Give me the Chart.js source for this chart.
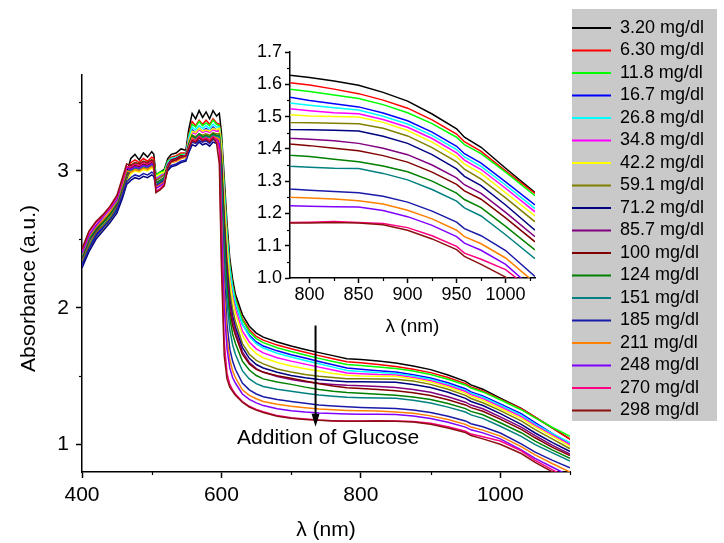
<!DOCTYPE html>
<html><head><meta charset="utf-8">
<script src="https://cdn.jsdelivr.net/npm/chart.js@4.4.1/dist/chart.umd.min.js"></script>
<style>
html,body{margin:0;padding:0;background:#fff;}
#wrap{position:relative;width:724px;height:543px;overflow:hidden;}
canvas{position:absolute;left:0;top:0;}
#inset{pointer-events:none;}
</style></head>
<body><div id="wrap"><canvas id="main" width="724" height="543"></canvas><canvas id="inset" width="724" height="543"></canvas></div>
<script>
// ---------------- DATA ----------------
const WAVELENGTH = [400,410,420,430,440,450,458,464, 470,476,482,488,494,500, 503,506,512,518,523,528,535,542,549, 553,558,563,568,573,578,583,588,593,597, 600,604,608,612,616,620, 630,640,650,660,680,700,720,740,760, 780,800,825,850,875,900,925,950,958,975,1000,1030, 1050,1075,1100];

const CONCENTRATIONS = ['3.20 mg/dl','6.30 mg/dl','11.8 mg/dl','16.7 mg/dl','26.8 mg/dl','34.8 mg/dl','42.2 mg/dl','59.1 mg/dl','71.2 mg/dl','85.7 mg/dl','100 mg/dl','124 mg/dl','151 mg/dl','185 mg/dl','211 mg/dl','248 mg/dl','270 mg/dl','298 mg/dl'];

const COLORS = ['#000000','#ff0000','#00ff00','#0000ff','#00ffff','#ff00ff','#ffff00','#808000','#000080','#800080','#800000','#008000','#008080','#1a1aa8','#ff8000','#8000ff','#ff0080','#8b1010'];

const ABS_3_20 = [2.33,2.45,2.54,2.60,2.65,2.73,2.85,2.98, 3.09,3.12,3.08,3.13,3.10,3.14, 3.12,2.97,2.99,3.01,3.09,3.12,3.13,3.16,3.15, 3.30,3.42,3.38,3.44,3.39,3.43,3.38,3.44,3.40,3.42, 3.28,2.95,2.62,2.36,2.21,2.10, 1.95,1.865,1.815,1.785,1.75,1.72,1.695,1.672,1.65, 1.628,1.621,1.610,1.597,1.575,1.548,1.508,1.462,1.436,1.405,1.340,1.265, 1.20,1.12,1.04];
const ABS_6_30 = [2.35,2.47,2.55,2.61,2.67,2.74,2.86,2.96, 3.06,3.08,3.06,3.09,3.07,3.10, 3.09,2.95,2.97,2.99,3.07,3.10,3.11,3.13,3.13, 3.26,3.36,3.33,3.37,3.34,3.37,3.34,3.38,3.35,3.34, 3.22,2.88,2.56,2.31,2.17,2.07, 1.92,1.84,1.79,1.763,1.727,1.70,1.675,1.65,1.627, 1.605,1.598,1.585,1.571,1.551,1.526,1.490,1.446,1.422,1.392,1.332,1.262, 1.20,1.12,1.04];
const ABS_11_8 = [2.32,2.44,2.53,2.58,2.64,2.72,2.83,2.93, 3.04,3.06,3.05,3.07,3.06,3.08, 3.07,2.97,2.99,3.00,3.07,3.09,3.10,3.12,3.12, 3.25,3.34,3.32,3.36,3.33,3.35,3.33,3.37,3.34,3.33, 3.22,2.88,2.55,2.30,2.16,2.06, 1.91,1.825,1.775,1.745,1.708,1.68,1.655,1.63,1.607, 1.585,1.578,1.567,1.556,1.537,1.512,1.478,1.436,1.413,1.385,1.328,1.255, 1.195,1.125,1.06];
const ABS_16_7 = [2.33,2.46,2.53,2.59,2.66,2.73,2.84,2.94, 3.01,3.03,3.02,3.04,3.03,3.05, 3.04,2.93,2.95,2.97,3.05,3.08,3.09,3.11,3.11, 3.22,3.30,3.28,3.31,3.29,3.31,3.29,3.32,3.30,3.30, 3.18,2.82,2.48,2.25,2.12,2.03, 1.88,1.80,1.75,1.72,1.685,1.657,1.632,1.607,1.583, 1.560,1.550,1.540,1.530,1.511,1.487,1.452,1.408,1.385,1.356,1.298,1.226, 1.16,1.08,1.00];
const ABS_26_8 = [2.35,2.48,2.56,2.61,2.67,2.75,2.87,2.97, 3.02,3.04,3.03,3.05,3.04,3.06, 3.05,2.95,2.97,2.99,3.06,3.09,3.10,3.11,3.12, 3.24,3.32,3.30,3.33,3.31,3.33,3.31,3.34,3.32,3.32, 3.20,2.85,2.52,2.28,2.14,2.04, 1.88,1.79,1.738,1.706,1.668,1.64,1.615,1.59,1.566, 1.542,1.535,1.527,1.520,1.501,1.477,1.442,1.398,1.375,1.346,1.288,1.215, 1.15,1.08,1.015];
const ABS_34_8 = [2.37,2.49,2.57,2.63,2.69,2.76,2.88,2.98, 3.01,3.03,3.02,3.04,3.03,3.05, 3.04,2.94,2.96,2.98,3.05,3.08,3.09,3.11,3.11, 3.22,3.28,3.27,3.30,3.28,3.29,3.28,3.30,3.29,3.29, 3.16,2.78,2.44,2.21,2.08,1.99, 1.83,1.75,1.70,1.67,1.635,1.61,1.588,1.566,1.545, 1.524,1.518,1.512,1.509,1.491,1.467,1.432,1.388,1.365,1.336,1.278,1.205, 1.14,1.07,1.00];
const ABS_42_2 = [2.30,2.42,2.51,2.57,2.63,2.70,2.81,2.91, 2.98,3.00,2.99,3.01,3.00,3.02, 3.01,2.96,2.98,2.99,3.04,3.06,3.07,3.09,3.10, 3.21,3.29,3.28,3.31,3.29,3.30,3.29,3.31,3.30,3.31, 3.18,2.80,2.45,2.20,2.06,1.96, 1.80,1.715,1.665,1.635,1.60,1.575,1.555,1.537,1.52, 1.506,1.502,1.500,1.499,1.482,1.457,1.421,1.376,1.353,1.324,1.264,1.192, 1.13,1.06,0.99];
const ABS_59_1 = [2.34,2.46,2.55,2.60,2.66,2.74,2.85,2.95, 3.00,3.02,3.01,3.03,3.02,3.04, 3.03,2.93,2.95,2.97,3.04,3.07,3.08,3.10,3.10, 3.20,3.26,3.25,3.27,3.26,3.27,3.26,3.28,3.27,3.27, 3.12,2.70,2.35,2.12,1.99,1.90, 1.74,1.66,1.615,1.59,1.553,1.53,1.513,1.50,1.49, 1.482,1.481,1.479,1.478,1.464,1.440,1.404,1.360,1.337,1.306,1.248,1.174, 1.11,1.04,0.97];
const ABS_71_2 = [2.29,2.41,2.50,2.56,2.62,2.69,2.80,2.90, 2.93,2.95,2.94,2.96,2.95,2.97, 2.96,2.88,2.90,2.92,3.00,3.03,3.04,3.06,3.07, 3.13,3.19,3.18,3.21,3.19,3.20,3.18,3.21,3.20,3.21, 3.05,2.62,2.28,2.06,1.94,1.86, 1.71,1.63,1.585,1.56,1.528,1.505,1.488,1.475,1.466, 1.460,1.459,1.458,1.455,1.439,1.417,1.382,1.338,1.315,1.286,1.226,1.148, 1.085,1.015,0.95];
const ABS_85_7 = [2.36,2.49,2.56,2.62,2.68,2.75,2.87,2.97, 3.00,3.02,3.01,3.03,3.02,3.04, 3.03,2.91,2.93,2.95,3.04,3.07,3.08,3.10,3.10, 3.18,3.25,3.23,3.26,3.24,3.25,3.24,3.27,3.25,3.25, 3.05,2.60,2.25,2.03,1.91,1.83, 1.68,1.60,1.555,1.53,1.498,1.475,1.46,1.448,1.44, 1.433,1.430,1.425,1.417,1.402,1.382,1.350,1.310,1.289,1.262,1.203,1.128, 1.065,0.995,0.93];
const ABS_100 = [2.37,2.50,2.58,2.63,2.69,2.77,2.89,2.99, 3.02,3.04,3.03,3.05,3.04,3.06, 3.05,2.89,2.91,2.93,3.04,3.08,3.09,3.11,3.11, 3.17,3.23,3.21,3.24,3.22,3.23,3.22,3.25,3.23,3.22, 3.00,2.52,2.18,1.98,1.87,1.80, 1.66,1.59,1.55,1.528,1.503,1.485,1.465,1.445,1.428, 1.415,1.410,1.402,1.394,1.379,1.359,1.328,1.290,1.270,1.244,1.186,1.112, 1.05,0.98,0.92];
const ABS_124 = [2.37,2.50,2.57,2.62,2.68,2.76,2.88,2.98, 3.01,3.03,3.02,3.04,3.03,3.05, 3.04,2.91,2.93,2.95,3.04,3.07,3.08,3.10,3.11, 3.19,3.26,3.24,3.27,3.25,3.26,3.25,3.27,3.26,3.26, 2.98,2.50,2.14,1.93,1.81,1.74, 1.61,1.545,1.505,1.48,1.458,1.44,1.42,1.403,1.39, 1.380,1.376,1.368,1.360,1.347,1.329,1.300,1.263,1.243,1.218,1.160,1.087, 1.025,0.96,0.90];
const ABS_151 = [2.38,2.51,2.59,2.64,2.70,2.77,2.90,3.00, 3.00,3.02,3.01,3.03,3.02,3.04, 3.03,2.90,2.92,2.94,3.03,3.07,3.08,3.10,3.10, 3.18,3.24,3.23,3.26,3.24,3.25,3.24,3.26,3.25,3.25, 2.92,2.42,2.05,1.84,1.73,1.66, 1.54,1.48,1.445,1.425,1.405,1.39,1.375,1.362,1.353, 1.346,1.343,1.340,1.339,1.324,1.304,1.274,1.238,1.217,1.192,1.134,1.060, 1.00,0.94,0.88];
const ABS_185 = [2.31,2.43,2.52,2.58,2.64,2.71,2.82,2.92, 2.95,2.97,2.96,2.98,2.97,2.99, 2.98,2.89,2.91,2.93,3.01,3.04,3.05,3.07,3.08, 3.15,3.21,3.20,3.22,3.21,3.22,3.20,3.23,3.22,3.22, 2.80,2.25,1.88,1.70,1.61,1.55, 1.45,1.40,1.37,1.35,1.33,1.315,1.302,1.29,1.282, 1.276,1.272,1.268,1.264,1.253,1.235,1.207,1.173,1.153,1.131,1.085,1.005, 0.945,0.885,0.83];
const ABS_211 = [2.39,2.52,2.59,2.64,2.70,2.78,2.90,3.00, 2.99,3.01,3.00,3.02,3.01,3.03, 3.02,2.88,2.90,2.92,3.03,3.06,3.07,3.09,3.10, 3.17,3.24,3.22,3.25,3.23,3.24,3.23,3.25,3.24,3.23, 2.70,2.12,1.78,1.62,1.54,1.49, 1.40,1.36,1.335,1.315,1.295,1.28,1.27,1.26,1.254, 1.250,1.248,1.245,1.239,1.229,1.210,1.183,1.148,1.128,1.106,1.062,0.985, 0.925,0.86,0.80];
const ABS_248 = [2.40,2.53,2.60,2.66,2.72,2.79,2.92,3.02, 3.01,3.03,3.02,3.04,3.03,3.05, 3.04,2.87,2.89,2.91,3.03,3.07,3.08,3.10,3.11, 3.16,3.22,3.21,3.24,3.22,3.23,3.22,3.24,3.23,3.20, 2.60,2.00,1.70,1.56,1.49,1.45, 1.37,1.33,1.305,1.285,1.262,1.248,1.238,1.231,1.227, 1.224,1.222,1.221,1.220,1.209,1.190,1.163,1.128,1.108,1.086,1.042,0.962, 0.90,0.835,0.77];
const ABS_270 = [2.42,2.55,2.62,2.67,2.73,2.81,2.93,3.03, 3.03,3.05,3.04,3.06,3.05,3.07, 3.06,2.85,2.87,2.90,3.03,3.07,3.08,3.10,3.11, 3.17,3.23,3.22,3.25,3.23,3.24,3.22,3.25,3.23,3.15, 2.40,1.75,1.52,1.44,1.40,1.37, 1.315,1.28,1.257,1.24,1.212,1.197,1.188,1.18,1.175, 1.172,1.173,1.175,1.172,1.169,1.156,1.131,1.098,1.077,1.058,1.026,0.955, 0.885,0.815,0.75];
const ABS_298 = [2.43,2.56,2.63,2.68,2.74,2.82,2.95,3.05, 3.04,3.06,3.05,3.07,3.06,3.08, 3.07,2.84,2.86,2.89,3.02,3.07,3.08,3.10,3.11, 3.16,3.22,3.21,3.24,3.22,3.23,3.21,3.24,3.20,3.05, 2.30,1.65,1.48,1.42,1.39,1.36, 1.31,1.275,1.252,1.235,1.207,1.192,1.184,1.178,1.173, 1.170,1.170,1.172,1.170,1.165,1.148,1.121,1.088,1.067,1.042,1.003,0.935, 0.87,0.80,0.74];

const SERIES = [ABS_3_20,ABS_6_30,ABS_11_8,ABS_16_7,ABS_26_8,ABS_34_8,ABS_42_2,ABS_59_1,ABS_71_2,ABS_85_7,ABS_100,ABS_124,ABS_151,ABS_185,ABS_211,ABS_248,ABS_270,ABS_298];

const MAIN_X_TICKS = [400,500,600,700,800,900,1000,1100];
const MAIN_X_LABELS = ['400','','600','','800','','1000',''];
const MAIN_Y_TICKS = [1,1.5,2,2.5,3,3.5];
const MAIN_Y_LABELS = ['1','','2','','3',''];
const INSET_X_TICKS = [800,825,850,875,900,925,950,975,1000,1025];
const INSET_X_LABELS = ['800','','850','','900','','950','','1000',''];
const INSET_Y_TICKS = [1.0,1.05,1.1,1.15,1.2,1.25,1.3,1.35,1.4,1.45,1.5,1.55,1.6,1.65,1.7];
const INSET_Y_LABELS = ['1.0','','1.1','','1.2','','1.3','','1.4','','1.5','','1.6','','1.7'];

const X_TITLE = 'λ (nm)';
const Y_TITLE = 'Absorbance (a.u.)';
const ANNOTATION_TEXT = 'Addition of Glucose';
// arrow & annotation anchor in data units (wavelength, absorbance)
const ARROW_X = 735, ARROW_FROM = 1.87, ARROW_TO = 1.13;
const NOTE_X = 753, NOTE_Y = 1.05;

// ---------------- STYLE / HELPERS ----------------
const FONT = "'Liberation Sans', Arial, Helvetica, sans-serif";
Chart.defaults.font.family = FONT;
Chart.defaults.color = '#000';

function makeDatasets(){
  return SERIES.map((arr, i) => ({
    label: CONCENTRATIONS[i],
    data: WAVELENGTH.map((w, j) => ({x: w, y: arr[j]})),
    borderColor: COLORS[i],
    backgroundColor: COLORS[i],
    borderWidth: 1.5,
    pointRadius: 0,
    tension: 0,
    order: SERIES.length - 1 - i
  }));
}

function minorTickPlugin(spec){
  return {
    id: 'minorTicks',
    afterDraw(chart){
      const ctx = chart.ctx;
      ctx.save();
      ctx.strokeStyle = '#000';
      ctx.lineWidth = 1.2;
      for (const id in spec){
        const scale = chart.scales[id], s = spec[id];
        s.ticks.forEach((v, i) => {
          if (s.labels[i] !== '') return;
          const p = Math.round(scale.getPixelForValue(v)) + 0.5;
          ctx.beginPath();
          if (scale.isHorizontal()){ ctx.moveTo(p, scale.top); ctx.lineTo(p, scale.top + s.len); }
          else { ctx.moveTo(scale.right, p); ctx.lineTo(scale.right - s.len, p); }
          ctx.stroke();
        });
      }
      ctx.restore();
    }
  };
}

function axis(ticksArr, labelsArr, opts){
  return Object.assign({
    type: 'linear',
    afterBuildTicks: s => { s.ticks = ticksArr.map(v => ({value: v})); },
    border: {display: true, color: '#000', width: 1.5},
    grid: {display: true, drawOnChartArea: false, drawTicks: true, tickLength: opts.tickLen, tickWidth: 1.5,
           tickColor: c => labelsArr[c.index] === '' ? 'rgba(0,0,0,0)' : '#000'},
    ticks: {autoSkip: false, maxRotation: 0, minRotation: 0, padding: opts.pad, color: '#000',
            font: {size: opts.fontSize, family: FONT}, callback: (v, i) => labelsArr[i]}
  }, opts.extra);
}

// ---------------- MAIN CHART ----------------
const LEGEND_WIDTH = 154;
const Y_TITLE_SHIFT = 15;

const mainPlugin = {
  id: 'mainDecor',
  beforeLayout(chart){
    const lg = chart.legend;
    if (lg && !lg._fixedWidth){
      const f = lg.fit;
      lg.fit = function(){ f.call(this); this.width = LEGEND_WIDTH; };
      lg._fixedWidth = true;
    }
  },
  afterLayout(chart){
    const lg = chart.legend;
    if (lg){ lg.left -= 2.5; lg.right -= 2.5; }
  },
  beforeDraw(chart){
    const ys = chart.scales.y;
    if (!ys._shiftedTitle){
      const orig = ys.drawTitle.bind(ys);
      ys.drawTitle = function(){ const c = this.ctx; c.save(); c.translate(0, Y_TITLE_SHIFT); orig(); c.restore(); };
      ys._shiftedTitle = true;
    }
    const lg = chart.legend, ctx = chart.ctx;
    ctx.save();
    ctx.fillStyle = '#c9c9c9';
    ctx.fillRect(lg.left + 4.5, lg.top - 5.5, 145, 412);
    ctx.restore();
  },
  afterDatasetsDraw(chart){
    const {ctx, scales: {x, y}} = chart;
    const ax = x.getPixelForValue(ARROW_X);
    const y0 = y.getPixelForValue(ARROW_FROM), y1 = y.getPixelForValue(ARROW_TO);
    ctx.save();
    ctx.strokeStyle = '#000'; ctx.fillStyle = '#000'; ctx.lineWidth = 2;
    ctx.beginPath(); ctx.moveTo(ax, y0); ctx.lineTo(ax, y1 - 10); ctx.stroke();
    ctx.beginPath(); ctx.moveTo(ax - 4, y1 - 13); ctx.lineTo(ax + 4, y1 - 13); ctx.lineTo(ax, y1); ctx.closePath(); ctx.fill();
    ctx.font = '21px ' + FONT; ctx.textAlign = 'center'; ctx.textBaseline = 'middle';
    ctx.fillText(ANNOTATION_TEXT, x.getPixelForValue(NOTE_X), y.getPixelForValue(NOTE_Y));
    ctx.restore();
  }
};

new Chart(document.getElementById('main'), {
  type: 'line',
  data: {datasets: makeDatasets()},
  options: {
    responsive: false, animation: false, devicePixelRatio: 1,
    layout: {padding: {top: 14.5, left: 0, right: 0, bottom: 0}},
    plugins: {
      tooltip: {enabled: false},
      legend: {
        display: true, position: 'right', align: 'start',
        labels: {
          boxWidth: 39, boxHeight: 2, padding: 4.5, color: '#000',
          font: {size: 18, family: FONT},
          sort: (a, b) => a.datasetIndex - b.datasetIndex,
          generateLabels(chart){
            const items = Chart.defaults.plugins.legend.labels.generateLabels(chart);
            items.forEach(it => { it.lineWidth = 0; it.fillStyle = it.strokeStyle; });
            return items;
          }
        }
      }
    },
    scales: {
      x: axis(MAIN_X_TICKS, MAIN_X_LABELS, {tickLen: 6, pad: 5, fontSize: 21, extra: {
        position: 'bottom', min: 400, max: 1100,
        title: {display: true, text: X_TITLE, color: '#000', font: {size: 21, family: FONT}, padding: {top: 0, bottom: 0}},
        afterFit: s => { s.height = 71; }
      }}),
      y: axis(MAIN_Y_TICKS, MAIN_Y_LABELS, {tickLen: 6, pad: 7, fontSize: 21, extra: {
        position: 'left', min: 0.8, max: 3.7,
        title: {display: true, text: Y_TITLE, color: '#000', font: {size: 21, family: FONT}, padding: {top: 17, bottom: 0}},
        afterFit: s => { s.width = 82; }
      }}),
      xTop: {
        type: 'linear', position: 'top', display: true,
        grid: {display: false}, border: {display: false}, ticks: {display: false},
        afterFit: s => { s.height = 60.5; }
      }
    }
  },
  plugins: [mainPlugin, minorTickPlugin({
    x: {ticks: MAIN_X_TICKS, labels: MAIN_X_LABELS, len: 3},
    y: {ticks: MAIN_Y_TICKS, labels: MAIN_Y_LABELS, len: 3}
  })]
});

// ---------------- INSET CHART ----------------
new Chart(document.getElementById('inset'), {
  type: 'line',
  data: {datasets: makeDatasets()},
  options: {
    responsive: false, animation: false, devicePixelRatio: 1,
    layout: {padding: {top: 52, left: 0, right: 189, bottom: 0}},
    plugins: {legend: {display: false}, tooltip: {enabled: false}},
    scales: {
      x: axis(INSET_X_TICKS, INSET_X_LABELS, {tickLen: 5, pad: 1, fontSize: 18, extra: {
        position: 'bottom', min: 780, max: 1030,
        title: {display: true, text: X_TITLE, color: '#000', font: {size: 19, family: FONT}, padding: {top: 0, bottom: 204.6}},
        afterFit: s => { s.height = 265; }
      }}),
      y: axis(INSET_Y_TICKS, INSET_Y_LABELS, {tickLen: 5, pad: 3, fontSize: 18, extra: {
        position: 'left', min: 1.0, max: 1.7,
        afterFit: s => { s.width = 290; }
      }})
    }
  },
  plugins: [minorTickPlugin({
    x: {ticks: INSET_X_TICKS, labels: INSET_X_LABELS, len: 3},
    y: {ticks: INSET_Y_TICKS, labels: INSET_Y_LABELS, len: 3}
  })]
});
</script>
</body></html>
